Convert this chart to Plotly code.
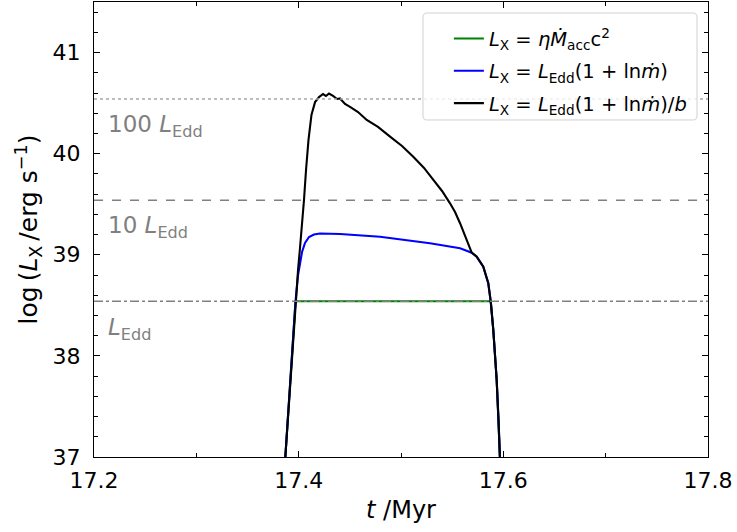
import plotly.graph_objects as go

# ---------------- data ----------------
L_EDD_LOG = 38.54          # log L_Edd
LEVELS = [L_EDD_LOG + 2, L_EDD_LOG + 1, L_EDD_LOG]   # 100, 10, 1 L_Edd

t_green = [17.3867, 17.3969, 17.5877, 17.5902, 17.5935, 17.5953, 17.5968]
L_green = [36.96, 38.54, 38.54, 38.256, 37.762, 37.366, 36.96]

t_blue = [17.3867, 17.3969, 17.3994, 17.4013, 17.4033, 17.4062, 17.4101, 17.4150,
          17.4208, 17.4404, 17.4795, 17.5283, 17.5577, 17.5635, 17.5691, 17.5740,
          17.5804, 17.5853, 17.5877, 17.5902, 17.5935, 17.5953, 17.5968]
L_blue = [36.96, 38.536, 38.800, 38.929, 39.028, 39.117, 39.176, 39.201,
          39.211, 39.206, 39.179, 39.114, 39.064, 39.043, 39.021, 38.981,
          38.882, 38.718, 38.536, 38.256, 37.762, 37.366, 36.96]

t_black = [17.3867, 17.3969, 17.3994, 17.4013, 17.4033, 17.4052, 17.4072, 17.4096,
           17.4125, 17.4160, 17.4199, 17.4238, 17.4267, 17.4296, 17.4336, 17.4375,
           17.4404, 17.4453, 17.4502, 17.4580, 17.4665, 17.4775, 17.4893, 17.5010,
           17.5120, 17.5225, 17.5316, 17.5401, 17.5479, 17.5528, 17.5577, 17.5626,
           17.5674, 17.5691, 17.5740, 17.5804, 17.5853, 17.5877, 17.5902, 17.5935,
           17.5953, 17.5968]
L_black = [36.96, 38.536, 38.850, 39.067, 39.295, 39.542, 39.839, 40.136,
           40.383, 40.510, 40.560, 40.590, 40.570, 40.595, 40.571, 40.541,
           40.546, 40.492, 40.462, 40.412, 40.333, 40.264, 40.168, 40.076,
           39.970, 39.859, 39.740, 39.631, 39.509, 39.423, 39.312, 39.186,
           39.047, 39.021, 38.981, 38.882, 38.718, 38.536, 38.256, 37.762,
           37.366, 36.96]

names = [
    "<i>L</i><sub>X</sub> = <i>η</i><i>Ṁ</i><sub>acc</sub>c<sup>2</sup>",
    "<i>L</i><sub>X</sub> = <i>L</i><sub>Edd</sub>(1 + ln<i>ṁ</i>)",
    "<i>L</i><sub>X</sub> = <i>L</i><sub>Edd</sub>(1 + ln<i>ṁ</i>)/<i>b</i>",
]
level_labels = ["100 <i>L</i><sub>Edd</sub>", "10 <i>L</i><sub>Edd</sub>", "<i>L</i><sub>Edd</sub>"]
x_ticks = [17.2, 17.4, 17.6, 17.8]
y_ticks = [37, 38, 39, 40, 41]

FONT = "DejaVu Sans"

fig = go.Figure()
for i, (t, L, c, n) in enumerate([(t_green, L_green, "#008000", names[0]),
                                  (t_blue, L_blue, "#0000ff", names[1]),
                                  (t_black, L_black, "#000000", names[2])]):
    fig.add_trace(go.Scatter(x=t, y=L, mode="lines", name=n, legendgroup=f"g{i}",
                             line=dict(color=c, width=2.1)))

# reference levels
styles = [("dot", "#a8a8a8"), ("dash", "#808080"), ("dashdot", "#808080")]
for lv, (d, c) in zip(LEVELS, styles):
    fig.add_shape(type="line", xref="paper", x0=0, x1=1, yref="y", y0=lv, y1=lv,
                  line=dict(color=c, width=1.5, dash=d), layer="above")

for lv, txt in zip(LEVELS, level_labels):
    fig.add_annotation(x=17.2117, y=lv - 0.27, xref="x", yref="y", text=txt,
                       showarrow=False, xanchor="left", yanchor="middle",
                       font=dict(family=FONT, size=23, color="#808080"))

# legend frame (rounded)
x0, x1, y0, y1 = 0.5358, 0.9821, 0.7407, 0.9758
rx, ry = 0.007, 0.009
path = (f"M {x0+rx},{y0} L {x1-rx},{y0} Q {x1},{y0} {x1},{y0+ry} "
        f"L {x1},{y1-ry} Q {x1},{y1} {x1-rx},{y1} L {x0+rx},{y1} "
        f"Q {x0},{y1} {x0},{y1-ry} L {x0},{y0+ry} Q {x0},{y0} {x0+rx},{y0} Z")
fig.add_shape(type="path", xref="paper", yref="paper", path=path,
              line=dict(color="#d0d0d0", width=1),
              fillcolor="rgba(255,255,255,0.8)", layer="above")

axis_common = dict(showline=True, linecolor="black", linewidth=1.3, mirror="ticks",
                   ticks="inside", ticklen=6, tickwidth=1, tickcolor="black",
                   showgrid=False, zeroline=False,
                   tickfont=dict(family=FONT, size=22, color="black"))

fig.update_xaxes(range=[17.2, 17.8], tickvals=x_ticks, ticktext=[f"{v:.1f}" for v in x_ticks],
                 minor=dict(dtick=0.1, tick0=17.2, ticks="inside", ticklen=3.5,
                            tickcolor="black", showgrid=False),
                 title=dict(text="<i>t</i> /Myr", font=dict(family=FONT, size=24, color="black"),
                            standoff=9),
                 ticklabelstandoff=3, **axis_common)
fig.update_yaxes(range=[37, 41.5], tickvals=y_ticks,
                 minor=dict(dtick=0.2, tick0=37, ticks="inside", ticklen=3.5,
                            tickcolor="black", showgrid=False),
                 title=dict(text="log&#8201;(<i>L</i><sub>X</sub>&#8201;/erg s<sup>−1</sup>)",
                            font=dict(family=FONT, size=25, color="black"), standoff=7),
                 ticklabelstandoff=8, **axis_common)

fig.update_layout(
    width=737, height=532,
    margin=dict(l=94, r=29, t=2, b=75, autoexpand=False),
    plot_bgcolor="white", paper_bgcolor="white",
    font=dict(family=FONT, color="black"),
    legend=dict(x=0.578, y=0.962, xanchor="left", yanchor="top",
                bgcolor="rgba(0,0,0,0)", borderwidth=0,
                font=dict(family=FONT, size=19.5, color="black"),
                tracegroupgap=4),
)

fig.write_html("out.html")
